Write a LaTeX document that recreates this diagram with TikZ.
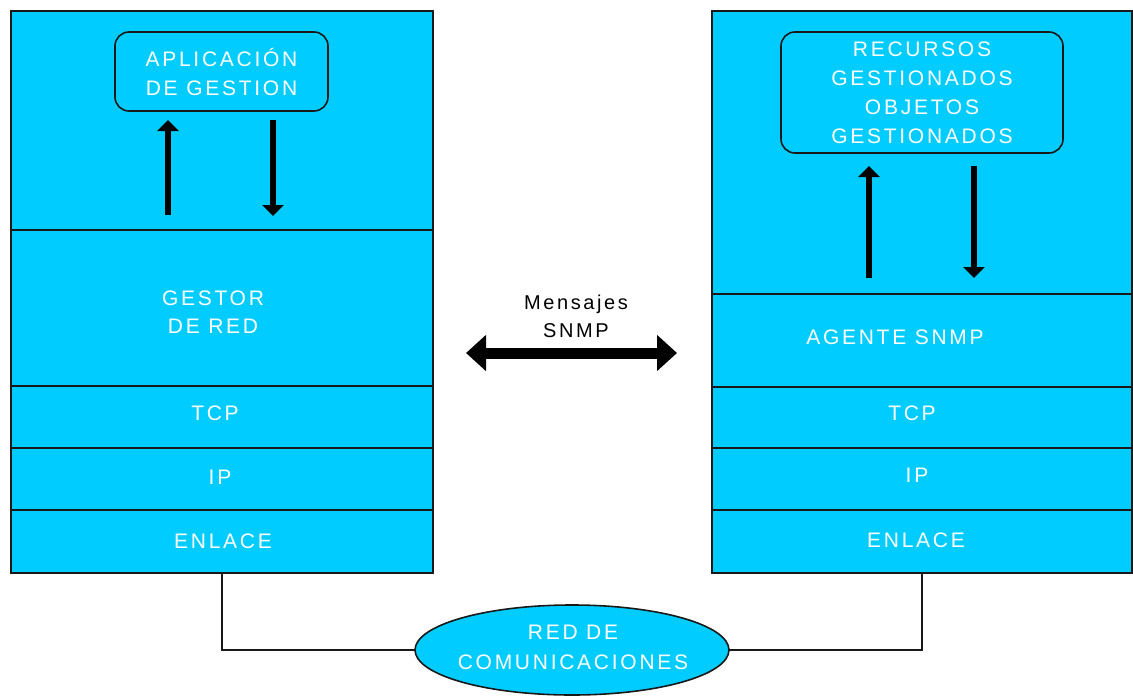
\documentclass[tikz,border=0pt]{standalone}
\usepackage{fontspec}
\setmainfont{Liberation Sans}
\newfontfamily\widefont[LetterSpace=13]{Liberation Sans}
\usetikzlibrary{arrows.meta,shapes.geometric}
\definecolor{layercyan}{RGB}{0,204,255}
\definecolor{edgegray}{RGB}{25,25,25}

\begin{document}
\begin{tikzpicture}[x=1pt,y=-1pt,
  layer/.style={rectangle, draw=edgegray, line width=1.6pt, fill=layercyan,
    anchor=north west, inner sep=0pt},
  appbox/.style={rectangle, draw=edgegray, line width=1.6pt, fill=layercyan,
    rounded corners=14pt, inner sep=0pt, text=white, align=center,
    font=\widefont\fontsize{21pt}{29pt}\selectfont},
  lbl/.style={text=white, align=center, inner sep=0pt,
    font=\widefont\fontsize{21pt}{28pt}\selectfont},
  msg/.style={text=black, align=center, inner sep=0pt,
    font=\widefont\fontsize{20pt}{28pt}\selectfont},
  flow/.style={line width=6pt, -{Triangle[width=21pt,length=11pt]}},
  bus/.style={line width=11pt,
    {Triangle[width=35pt,length=20pt]}-{Triangle[width=35pt,length=20pt]}},
  wire/.style={draw=edgegray, line width=1.6pt},
  net/.style={ellipse, draw=edgegray, line width=1.6pt, fill=layercyan,
    inner sep=0pt}]

\useasboundingbox (0,0) rectangle (1133,696);

% manager stack
\node[layer, minimum width=422pt, minimum height=219pt] (lapp)  at (10,10)  {};
\node[layer, minimum width=422pt, minimum height=156pt] (lgest) at (10,229) {};
\node[layer, minimum width=422pt, minimum height=62pt]  (ltcp)  at (10,385) {};
\node[layer, minimum width=422pt, minimum height=62pt]  (lip)   at (10,447) {};
\node[layer, minimum width=422pt, minimum height=63pt]  (lenl)  at (10,509) {};

% agent stack
\node[layer, minimum width=420pt, minimum height=283pt] (rapp)   at (711,10)  {};
\node[layer, minimum width=420pt, minimum height=93pt]  (ragent) at (711,293) {};
\node[layer, minimum width=420pt, minimum height=61pt]  (rtcp)   at (711,386) {};
\node[layer, minimum width=420pt, minimum height=62pt]  (rip)    at (711,447) {};
\node[layer, minimum width=420pt, minimum height=63pt]  (renl)   at (711,509) {};

% application boxes
\node[appbox, minimum width=213pt, minimum height=79pt] (aplic) at (221.5,71.5)
  {APLICACIÓN\\DE GESTION};
\node[appbox, minimum width=282pt, minimum height=121pt] (recur) at (922,92.5)
  {RECURSOS\\GESTIONADOS\\OBJETOS\\GESTIONADOS};

% layer labels
\node[lbl] (tgestor) at (213,312) {GESTOR\\DE RED};
\node[lbl] (tltcp)   at (215,413) {TCP};
\node[lbl] (tlip)    at (220,477) {IP};
\node[lbl] (tlenl)   at (223,541) {ENLACE};
\node[lbl] (tagent)  at (895,337) {AGENTE SNMP};
\node[lbl] (trtcp)   at (912,413) {TCP};
\node[lbl] (trip)    at (917,475) {IP};
\node[lbl] (trenl)   at (916,540) {ENLACE};

% vertical flows between application and protocol entity
\coordinate (lupS) at (168,215);  \coordinate (lupE) at (168,120);
\coordinate (ldnS) at (273,120);  \coordinate (ldnE) at (273,216);
\coordinate (rupS) at (869,278);  \coordinate (rupE) at (869,166);
\coordinate (rdnS) at (974,166);  \coordinate (rdnE) at (974,278);
\draw[flow] (lupS) -- (lupE);
\draw[flow] (ldnS) -- (ldnE);
\draw[flow] (rupS) -- (rupE);
\draw[flow] (rdnS) -- (rdnE);

% SNMP message exchange
\node[msg] (tmsg) at (576,316) {Mensajes\\SNMP};
\coordinate (busL) at (466,353);
\coordinate (busR) at (677,353);
\draw[bus] (busL) -- (busR);

% communication network
\draw[wire] (lenl.south) |- (572,650);
\draw[wire] (renl.south) |- (572,650);
\node[net, minimum width=314pt, minimum height=90pt] (red) at (572,650) {};
\node[lbl, font=\widefont\fontsize{21pt}{30pt}\selectfont] (tred) at (573,647)
  {RED DE\\COMUNICACIONES};
\end{tikzpicture}
\end{document}
